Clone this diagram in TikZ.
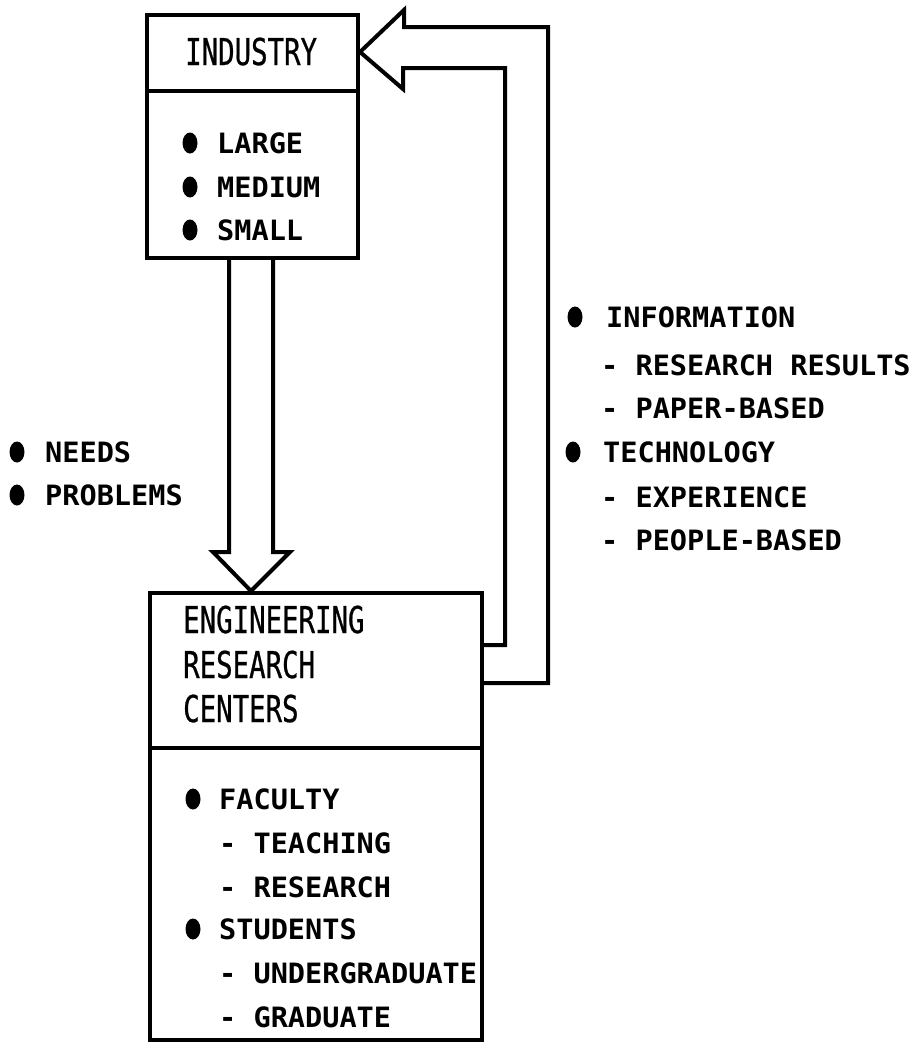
\documentclass[tikz,border=0pt]{standalone}
\usepackage{fontspec}
\newfontfamily\lblfont[FakeStretch=1.02]{DejaVu Sans Mono}
\newfontfamily\ttlfont[FakeStretch=0.74,FakeBold=0.6]{DejaVu Sans Mono}
\begin{document}
\begin{tikzpicture}[x=1pt,y=-1pt,
  boxst/.style={draw,line width=4pt,inner sep=0pt},
  ln/.style={line width=4pt},
  band/.style={draw,line width=4pt,line join=miter},
  lbl/.style={anchor=base west,inner sep=0pt,font=\lblfont\bfseries\fontsize{28}{28}\selectfont},
  ttl/.style={anchor=base west,inner sep=0pt,font=\ttlfont\fontsize{37}{37}\selectfont},
  bul/.style={fill=black}]
\useasboundingbox (0,0) rectangle (919,1055);

% boxes
\node[boxst,minimum width=211pt,minimum height=243pt] (ind) at (252.5,136.5) {};
\draw[ln] (ind.west |- 0,91) -- (ind.east |- 0,91);
\node[boxst,minimum width=332pt,minimum height=447pt] (erc) at (316,816.5) {};
\draw[ln] (erc.west |- 0,748) -- (erc.east |- 0,748);

% titles
\node[ttl] (tind) at (185,65) {INDUSTRY};
\node[ttl] (terc1) at (183,633) {ENGINEERING};
\node[ttl] (terc2) at (183,678) {RESEARCH};
\node[ttl] (terc3) at (183,722) {CENTERS};

% industry list
\fill[bul] (190,143) ellipse [x radius=7.5pt, y radius=10.5pt];
\fill[bul] (190,187) ellipse [x radius=7.5pt, y radius=10.5pt];
\fill[bul] (190,230) ellipse [x radius=7.5pt, y radius=10.5pt];
\node[lbl] (i1) at (217,153) {LARGE};
\node[lbl] (i2) at (217,197) {MEDIUM};
\node[lbl] (i3) at (217,240) {SMALL};

% ERC list
\fill[bul] (193,799) ellipse [x radius=7.5pt, y radius=10.5pt];
\fill[bul] (193,929) ellipse [x radius=7.5pt, y radius=10.5pt];
\node[lbl] (e1) at (219,809) {FACULTY};
\node[lbl] (e2) at (219,853) {- TEACHING};
\node[lbl] (e3) at (219,897) {- RESEARCH};
\node[lbl] (e4) at (219,939) {STUDENTS};
\node[lbl] (e5) at (219,983) {- UNDERGRADUATE};
\node[lbl] (e6) at (219,1027) {- GRADUATE};

% left labels
\fill[bul] (17,452) ellipse [x radius=7.5pt, y radius=10.5pt];
\fill[bul] (17,495) ellipse [x radius=7.5pt, y radius=10.5pt];
\node[lbl] (n1) at (45,462) {NEEDS};
\node[lbl] (n2) at (45,505) {PROBLEMS};

% right labels
\fill[bul] (575,317) ellipse [x radius=7.5pt, y radius=10.5pt];
\fill[bul] (573,452) ellipse [x radius=7.5pt, y radius=10.5pt];
\node[lbl] (r1) at (606,327) {INFORMATION};
\node[lbl] (r2) at (601,375) {- RESEARCH RESULTS};
\node[lbl] (r3) at (601,418) {- PAPER-BASED};
\node[lbl] (r4) at (603,462) {TECHNOLOGY};
\node[lbl] (r5) at (601,507) {- EXPERIENCE};
\node[lbl] (r6) at (601,550) {- PEOPLE-BASED};

% down arrow
\draw[band] (229,0 |- ind.south) -- (229,552) -- (213,552) -- (251,0 |- erc.north)
  -- (290,552) -- (273,552) -- (273,0 |- ind.south);

% feedback arrow
\draw[band] (erc.east |- 0,645) -- (505,645) -- (505,68) -- (403,68) -- (403,89)
  -- (ind.east |- 0,52) -- (404,10) -- (404,27) -- (548,27) -- (548,683)
  -- (erc.east |- 0,683);
\end{tikzpicture}
\end{document}
